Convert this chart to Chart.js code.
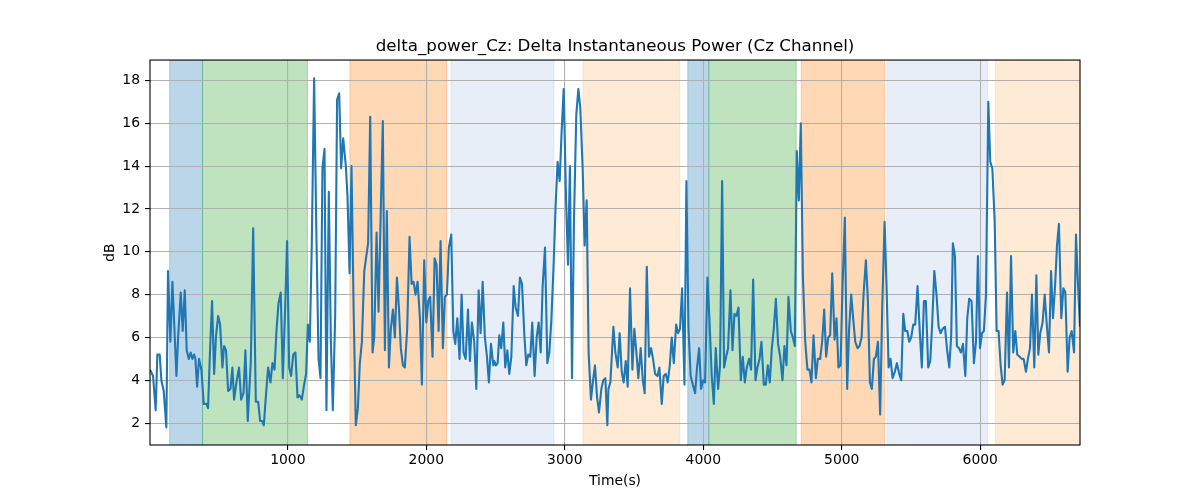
<!DOCTYPE html>
<html><head><meta charset="utf-8">
<script src="https://cdn.jsdelivr.net/npm/chart.js@4.4.1/dist/chart.umd.min.js"></script>
<style>html,body{margin:0;padding:0;background:#fff}canvas{display:block}</style>
</head><body>
<canvas id="c" width="1200" height="500"></canvas>
<script>
const titleText = 'delta_power_Cz: Delta Instantaneous Power (Cz Channel)';
const xLabel = 'Time(s)';
const yLabel = 'dB';

const times = [5,27,46,58,75,87,104,123,135,152,167,184,196,208,227,241,256,270,285,299,311,323,333,345,359,376,393,412,424,439,453,468,482,497,511,528,540,554,569,586,600,612,629,648,663,680,694,711,733,750,769,786,800,815,
827,841,858,875,889,904,918,933,949,964,981,995,1010,1024,1039,1055,1070,1084,1101,1118,1132,1145,1159,1173,1190,1207,1222,1236,1250,1265,1279,1296,1311,1325,1342,1356,1371,1385,1400,1419,1431,1446,1460,1475,1491,1506,1520,1535,1552,1567,1580,1595,1612,1624,1641,1655,
1686,1701,1715,1730,1744,1759,1773,1788,1802,1816,1831,1845,1862,1879,1894,1908,1922,1937,1954,1968,1985,2000,2014,2028,2045,2060,2074,2089,2103,2120,2134,2149,2163,2180,2195,2209,2224,2240,2255,2269,2284,2301,2315,2329,2346,2361,2378,2392,2407,2423,2438,2452,2467,2484,
2491,2503,2515,2527,2541,2556,2570,2585,2599,2614,2631,2645,2662,2676,2691,2708,2722,2736,2751,2765,2782,2797,2811,2826,2840,2857,2874,2888,2903,2920,2934,2948,2963,2977,2992,3009,3023,3037,3052,3066,3083,3098,3112,3129,3143,3158,3172,3189,3204,3218,3233,3247,3264,3278,3293,3307,
3315,3329,3351,3365,3382,3396,3411,3425,3440,3454,3471,3488,3502,3517,3531,3548,3563,3577,3592,3608,3623,3637,3652,3669,3683,3700,3714,3729,3743,3758,3772,3787,3804,3818,3832,3847,3864,3878,3893,3909,3924,3941,3955,3970,3984,3999,4013,4030,4044,4061,4076,4090,4107,4121,4136,4150,
4165,4179,4196,4211,4225,4239,4254,4271,4285,4300,4314,4331,4345,4360,4377,4391,4406,4420,4437,4451,4466,4480,4495,4509,4524,4540,4555,4572,4586,4601,4615,4632,4647,4661,4675,4690,4704,4719,4736,4752,4767,4781,4796,4813,4827,4844,4858,4873,4887,4902,4916,4931,4948,4962,4976,
4991,5005,5022,5039,5053,5068,5082,5097,5114,5128,5143,5157,5174,5188,5203,5217,5232,5246,5261,5277,5292,5309,5323,5338,5352,5367,5383,5398,5415,5429,5444,5458,5473,5487,5501,5516,5530,5547,5562,5578,5593,5607,5624,5639,5653,5668,5684,5699,5713,5728,5745,5759,5776,5790,
5802,5817,5831,5846,5860,5875,5892,5906,5920,5937,5954,5969,5983,5998,6012,6026,6041,6058,6072,6087,6104,6118,6132,6147,6161,6176,6193,6207,6222,6238,6253,6267,6284,6299,6313,6330,6344,6359,6373,6390,6405,6419,6433,6450,6465,6479,6496,6511,6525,6540,6554,6568,6585,6600,6614,6631,6645,6660,6677,6691,6706,6720];

const values = [4.5,4.2,2.6,5.2,5.2,4.0,3.5,1.8,9.1,5.8,8.6,6.0,4.2,6.0,8.1,6.3,8.2,5.4,5.0,5.3,5.0,5.2,5.0,3.7,5.0,4.5,2.9,2.9,2.7,5.5,7.7,4.3,6.1,7.0,6.6,4.6,5.6,5.4,3.5,3.6,4.6,3.1,3.9,4.6,3.1,3.4,5.4,2.1,4.9,11.1,3.0,3.0,2.1,2.1,
1.9,3.2,4.6,3.9,4.8,4.5,6.3,7.6,8.1,4.1,7.4,10.5,4.6,4.2,5.2,5.3,3.2,3.3,3.1,3.8,4.3,6.6,5.8,10.3,18.1,10.6,5.0,4.1,13.9,14.8,2.6,12.8,5.8,2.6,7.0,17.1,17.4,13.9,15.3,14.0,12.6,9.0,14.0,7.4,1.9,2.7,4.8,5.8,9.1,9.8,10.4,16.3,5.3,6.0,10.9,7.2,
16.1,5.4,11.9,4.6,6.4,7.3,6.0,8.8,7.4,5.5,4.7,4.6,6.4,10.7,8.5,8.6,8.0,8.6,6.9,3.8,9.6,6.7,7.7,7.9,5.1,9.7,9.4,6.3,10.5,5.5,7.9,8.0,10.2,10.8,6.3,5.7,6.9,5.0,8.0,5.3,5.0,7.3,4.9,6.7,5.8,3.6,8.2,6.2,8.6,6.0,5.1,3.9,5.7,4.7,
4.9,4.7,4.8,6.1,5.5,6.7,4.6,5.4,4.3,5.1,8.4,7.4,7.0,8.8,8.5,6.1,4.7,5.2,5.1,6.7,4.2,6.0,6.7,5.3,8.4,10.2,4.8,5.3,6.8,9.5,12.2,14.2,13.3,15.6,17.6,12.5,9.4,14.0,4.1,11.4,16.4,17.6,16.7,13.9,10.3,12.4,5.3,3.1,4.0,4.7,3.2,2.5,3.6,4.0,4.1,1.9,
3.6,3.9,6.5,5.3,4.6,6.2,4.4,3.9,4.9,3.7,8.3,4.5,6.4,5.3,4.1,5.5,4.0,3.4,9.3,5.1,5.5,5.0,4.3,4.2,4.6,2.9,4.2,4.3,3.9,4.7,6.0,4.8,6.6,6.2,6.4,8.3,3.8,13.3,6.4,4.2,3.8,3.4,4.6,5.5,3.6,4.0,3.9,8.8,6.9,4.2,2.9,5.5,3.6,4.7,13.3,4.6,
5.1,5.5,8.2,5.4,7.1,7.0,7.4,4.0,5.1,3.9,4.6,5.0,4.5,8.7,4.0,4.6,5.0,5.8,3.8,3.8,4.7,3.9,5.5,6.4,7.8,5.7,5.1,4.0,5.6,4.7,7.9,6.3,6.0,5.6,14.7,12.4,16.0,8.9,5.8,4.5,4.5,3.9,6.1,4.1,5.0,5.0,5.8,7.3,5.1,6.0,6.1,9.0,5.9,6.9,4.6,
4.7,8.3,11.6,3.6,6.4,8.0,6.9,5.8,5.5,5.6,6.0,8.0,9.6,7.8,3.9,3.6,5.0,5.1,5.8,2.4,7.4,11.4,8.4,4.6,5.0,4.1,4.4,4.8,4.3,4.0,7.1,6.3,6.3,5.8,6.0,6.6,6.6,8.4,6.4,4.6,7.7,7.7,4.6,4.9,6.7,9.1,8.0,6.5,6.2,6.4,6.5,5.5,4.6,6.1,
10.4,9.8,5.6,5.5,5.3,5.7,4.2,6.9,7.8,7.7,4.8,5.8,9.8,5.5,6.2,6.3,8.0,17.0,14.2,13.9,11.4,6.3,6.3,4.7,3.8,4.0,8.1,4.6,9.8,5.3,6.3,5.2,5.1,5.0,5.0,4.4,5.0,5.5,8.0,4.6,8.9,5.2,6.2,6.7,8.0,6.7,5.3,9.1,6.9,8.4,10.3,11.3,6.9,8.3,8.1,4.4,6.0,6.3,5.3,10.8,8.4,6.5];

const xTicks = [1000, 2000, 3000, 4000, 5000, 6000];
const yTicks = [2, 4, 6, 8, 10, 12, 14, 16, 18];
const xRange = [5, 6720];
const yRange = [0.98, 18.95];

const spanStarts = [147, 384, 1448, 2178, 3131, 3888, 4040, 4707, 5326, 6108];
const spanEnds   = [384, 1142, 2149, 2922, 3830, 4040, 4671, 5309, 6055, 6725];
const spanKinds  = ['blue', 'green', 'orange', 'lightblue', 'lightorange', 'blue', 'green', 'orange', 'lightblue', 'lightorange'];

const spanColors = {
  blue: 'rgba(31,119,180,0.3)',
  green: 'rgba(44,160,44,0.3)',
  orange: 'rgba(255,127,14,0.3)',
  lightblue: 'rgba(174,199,232,0.3)',
  lightorange: 'rgba(255,187,120,0.3)'
};

const spanPlugin = {
  id: 'spans',
  beforeDraw(chart) {
    const {ctx, chartArea: a, scales: {x}} = chart;
    ctx.save();
    ctx.beginPath();
    ctx.rect(a.left, a.top, a.right - a.left, a.bottom - a.top);
    ctx.clip();
    for (let i = 0; i < spanStarts.length; i++) {
      const x0 = x.getPixelForValue(spanStarts[i]);
      const x1 = x.getPixelForValue(spanEnds[i]);
      ctx.fillStyle = spanColors[spanKinds[i]];
      ctx.fillRect(x0, a.top, x1 - x0, a.bottom - a.top);
      ctx.strokeStyle = spanColors[spanKinds[i]];
      ctx.lineWidth = 1;
      ctx.strokeRect(x0, a.top - 2, x1 - x0, a.bottom - a.top + 4);
    }
    ctx.restore();
  }
};

const framePlugin = {
  id: 'frame',
  afterDraw(chart) {
    const {ctx, chartArea: a} = chart;
    ctx.save();
    ctx.strokeStyle = '#000';
    ctx.lineWidth = 1.1;
    ctx.strokeRect(a.left, a.top, a.right - a.left, a.bottom - a.top);
    ctx.restore();
  }
};

Chart.defaults.font.family = "'DejaVu Sans', sans-serif";
Chart.defaults.color = '#000';

const gridOpts = {
  display: true,
  color: '#b0b0b0',
  lineWidth: 1.1,
  drawTicks: true,
  tickLength: 5,
  tickColor: '#000',
  tickWidth: 1.1
};

new Chart(document.getElementById('c'), {
  type: 'line',
  data: {
    datasets: [{
      data: times.map((t, i) => ({x: t, y: values[i]})),
      borderColor: '#1f77b4',
      borderWidth: 2.1,
      pointRadius: 0,
      tension: 0,
      fill: false,
      borderJoinStyle: 'round',
      borderCapStyle: 'butt'
    }]
  },
  options: {
    responsive: false,
    animation: false,
    events: [],
    devicePixelRatio: 1,
    layout: {padding: {left: 30, right: 0, top: 0, bottom: 0}},
    plugins: {
      legend: {display: false},
      tooltip: {enabled: false},
      title: {
        display: true,
        text: titleText,
        color: '#000',
        font: {size: 16.7, weight: 'normal', lineHeight: 1.2},
        padding: {top: 37, bottom: 3}
      }
    },
    scales: {
      x: {
        type: 'linear',
        min: xRange[0],
        max: xRange[1],
        grid: gridOpts,
        border: {display: false},
        afterBuildTicks(s) { s.ticks = xTicks.map(v => ({value: v})); },
        afterFit(s) { s.height = 55; },
        ticks: {
          font: {size: 13.9},
          padding: 2,
          maxRotation: 0,
          autoSkip: false,
          callback: v => String(v)
        },
        title: {
          display: true,
          text: xLabel,
          font: {size: 13.9, lineHeight: 1.2},
          padding: {top: 0, bottom: 10.5}
        }
      },
      y: {
        type: 'linear',
        position: 'left',
        min: yRange[0],
        max: yRange[1],
        grid: gridOpts,
        border: {display: false},
        afterBuildTicks(s) { s.ticks = yTicks.map(v => ({value: v})); },
        afterFit(s) { s.width = 120; },
        ticks: {
          font: {size: 13.9},
          padding: 5,
          autoSkip: false,
          callback: v => String(v)
        },
        title: {
          display: true,
          text: yLabel,
          font: {size: 13.9, lineHeight: 1.2},
          padding: {top: 71.7, bottom: 0}
        }
      },
      yR: {
        type: 'linear',
        position: 'right',
        display: true,
        grid: {display: false, drawTicks: false},
        border: {display: false},
        ticks: {display: false},
        afterFit(s) { s.width = 120; }
      }
    }
  },
  plugins: [spanPlugin, framePlugin]
});
</script>
</body></html>
